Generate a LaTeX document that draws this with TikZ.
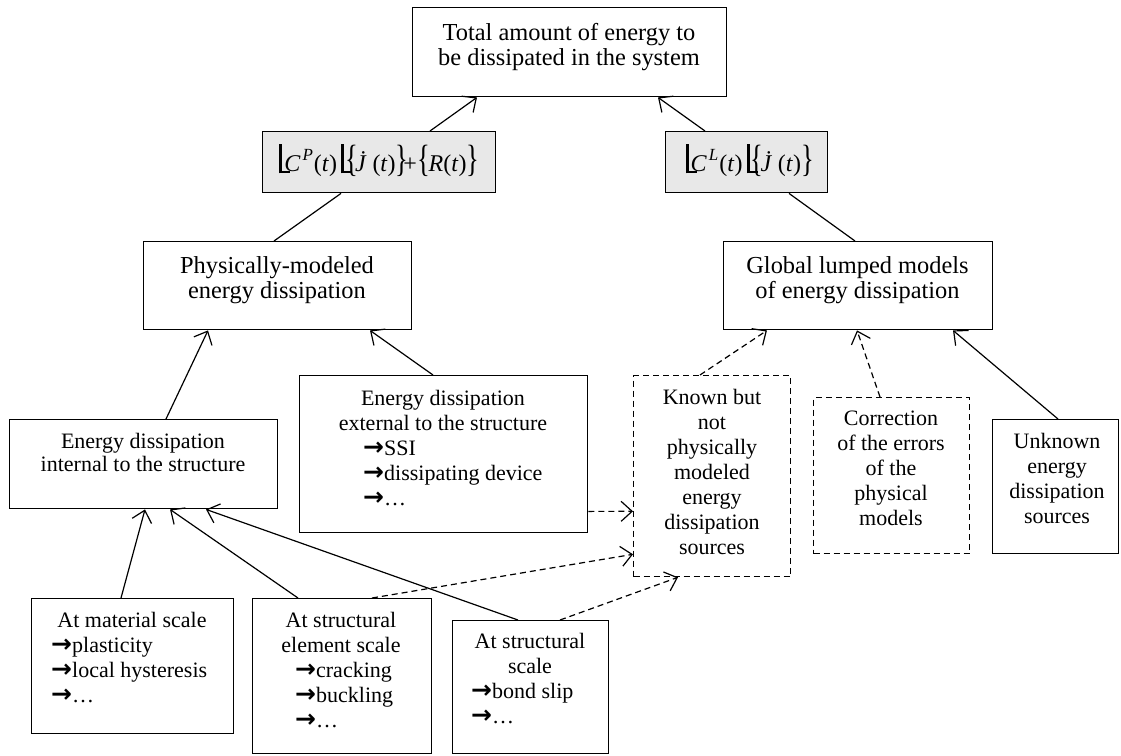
\documentclass[tikz,border=0pt]{standalone}
\usepackage{fontspec}
\setmainfont{Liberation Serif}
\newfontfamily\arrfont{DejaVu Sans}
\usetikzlibrary{arrows.meta}
\definecolor{fillg}{gray}{0.91}
\newcommand{\ar}{{\arrfont\fontsize{25}{25}\selectfont\bfseries →}}
\newcommand{\flr}{\rule[-2pt]{3.2pt}{29pt}\rule[-2pt]{8pt}{2.2pt}\kern-6pt}
\newcommand{\lbr}{\scalebox{0.7}[1]{\fontsize{38}{38}\selectfont\{}}
\newcommand{\rbr}{\scalebox{0.7}[1]{\fontsize{38}{38}\selectfont\}}}
\begin{document}
\begin{tikzpicture}[x=1pt,y=-1pt,
 box/.style={draw, line width=1.4pt, rectangle, inner sep=0pt, anchor=north west},
 dbox/.style={box, dash pattern=on 6pt off 4pt, line width=1.3pt},
 fbox/.style={box, fill=fillg},
 conn/.style={line width=1.2pt},
 arr/.style={conn, -{Straight Barb[length=11pt,width=20pt,line width=1.2pt]}},
 darr/.style={arr, dash pattern=on 6pt off 4pt},
 big/.style={font=\fontsize{24.4}{25.5}\selectfont, inner sep=0pt, anchor=base},
 txt/.style={font=\fontsize{22}{25}\selectfont, inner sep=0pt, anchor=base},
 lst/.style={txt, anchor=base west},
 frm/.style={font=\fontsize{24}{26}\selectfont, inner sep=0pt, anchor=base},
]
\useasboundingbox (0,0) rectangle (1121,755);
% boxes
\node[box, minimum width=314pt, minimum height=89pt] (top) at (412,7) {};
\node[fbox, minimum width=233pt, minimum height=61pt] (fL) at (262,131) {};
\node[fbox, minimum width=162pt, minimum height=61pt] (fR) at (665,131) {};
\node[box, minimum width=268pt, minimum height=88pt] (phys) at (143,241) {};
\node[box, minimum width=269pt, minimum height=88pt] (glob) at (723,241) {};
\node[box, minimum width=268pt, minimum height=89pt] (int) at (9,419) {};
\node[box, minimum width=288pt, minimum height=157pt] (ext) at (299,375) {};
\node[dbox, minimum width=157pt, minimum height=201pt] (known) at (633,375) {};
\node[dbox, minimum width=156pt, minimum height=156pt] (corr) at (813,397) {};
\node[box, minimum width=126pt, minimum height=134pt] (unk) at (992,419) {};
\node[box, minimum width=202pt, minimum height=135pt] (mat) at (31,598) {};
\node[box, minimum width=179pt, minimum height=155pt] (sel) at (252,598) {};
\node[box, minimum width=156pt, minimum height=133pt] (ss) at (452,620) {};
% texts
\node[big] (topT) at (569,40) {\begin{tabular}[t]{@{}c@{}}Total amount of energy to\\be dissipated in the system\end{tabular}};
\node[frm] (fLT) at ([yshift=22pt]fL.south) {\flr\textit{C}\kern2pt\raisebox{11pt}{\fontsize{17}{17}\selectfont\textit{P}}\kern1pt(\textit{t})\kern4pt\flr\kern-1pt\lbr\kern-3pt\textit{\.J}(\textit{t})\rbr\kern-5pt+\kern1pt\lbr\kern-2pt\textit{R}(\textit{t})\rbr};
\node[frm] (fRT) at ([xshift=3pt,yshift=22pt]fR.south) {\flr\textit{C}\kern2pt\raisebox{11pt}{\fontsize{17}{17}\selectfont\textit{L}}\kern1pt(\textit{t})\kern4pt\flr\kern-1pt\lbr\kern-3pt\textit{\.J}(\textit{t})\rbr};
\node[big] (physT) at (277,273) {\begin{tabular}[t]{@{}c@{}}Physically-modeled\\energy dissipation\end{tabular}};
\node[big] (globT) at (857.5,273) {\begin{tabular}[t]{@{}c@{}}Global lumped models\\of energy dissipation\end{tabular}};
\node[txt, font=\fontsize{22}{23}\selectfont] (intT) at (143,448) {\begin{tabular}[t]{@{}c@{}}Energy dissipation\\internal to the structure\end{tabular}};
\node[txt] (extT) at (443,405) {\begin{tabular}[t]{@{}c@{}}Energy dissipation\\external to the structure\end{tabular}};
\node[lst] (extL) at (363,455) {\begin{tabular}[t]{@{}l@{}}\ar SSI\\\ar dissipating device\\\ar …\end{tabular}};
\node[txt] (knownT) at (712,404) {\begin{tabular}[t]{@{}c@{}}Known but\\not\\physically\\modeled\\energy\\dissipation\\sources\end{tabular}};
\node[txt] (corrT) at (891,425) {\begin{tabular}[t]{@{}c@{}}Correction\\of the errors\\of the\\physical\\models\end{tabular}};
\node[txt] (unkT) at (1057,448) {\begin{tabular}[t]{@{}c@{}}Unknown\\energy\\dissipation\\sources\end{tabular}};
\node[txt] (matT) at (132,627) {At material scale};
\node[lst] (matL) at (51,652) {\begin{tabular}[t]{@{}l@{}}\ar plasticity\\\ar local hysteresis\\\ar …\end{tabular}};
\node[txt] (selT) at (341,627) {\begin{tabular}[t]{@{}c@{}}At structural\\element scale\end{tabular}};
\node[lst] (selL) at (295,677) {\begin{tabular}[t]{@{}l@{}}\ar cracking\\\ar buckling\\\ar …\end{tabular}};
\node[txt] (ssT) at (530,648) {\begin{tabular}[t]{@{}c@{}}At structural\\scale\end{tabular}};
\node[lst] (ssL) at (471,698) {\begin{tabular}[t]{@{}l@{}}\ar bond slip\\\ar …\end{tabular}};
% connectors
\draw[arr] ([xshift=168pt]fL.north west) -- ([xshift=65pt]top.south west);
\draw[arr] ([xshift=40pt]fR.north west) -- ([xshift=246pt]top.south west);
\draw[conn] ([xshift=79pt]fL.south west) -- ([xshift=131pt]phys.north west);
\draw[conn] ([xshift=124pt]fR.south west) -- ([xshift=132pt]glob.north west);
\draw[arr] ([xshift=157pt]int.north west) -- ([xshift=65pt]phys.south west);
\draw[arr] ([xshift=134pt]ext.north west) -- ([xshift=227pt]phys.south west);
\draw[darr] ([xshift=67pt]known.north west) -- ([xshift=44pt]glob.south west);
\draw[darr] ([xshift=67pt]corr.north west) -- ([xshift=134pt]glob.south west);
\draw[arr] ([xshift=66pt]unk.north west) -- ([xshift=230pt]glob.south west);
\draw[arr] ([xshift=90pt]mat.north west) -- ([xshift=136pt]int.south west);
\draw[arr] ([xshift=46pt]sel.north west) -- ([xshift=161pt]int.south west);
\draw[arr] ([xshift=66pt]ss.north west) -- ([xshift=197pt]int.south west);
\draw[darr] ([yshift=22pt]ext.south east) -- ([yshift=66pt]known.south west);
\draw[darr] ([xshift=120pt]sel.north west) -- ([yshift=23pt]known.south west);
\draw[darr] ([xshift=108pt]ss.north west) -- ([xshift=45pt]known.south west);
\end{tikzpicture}
\end{document}
